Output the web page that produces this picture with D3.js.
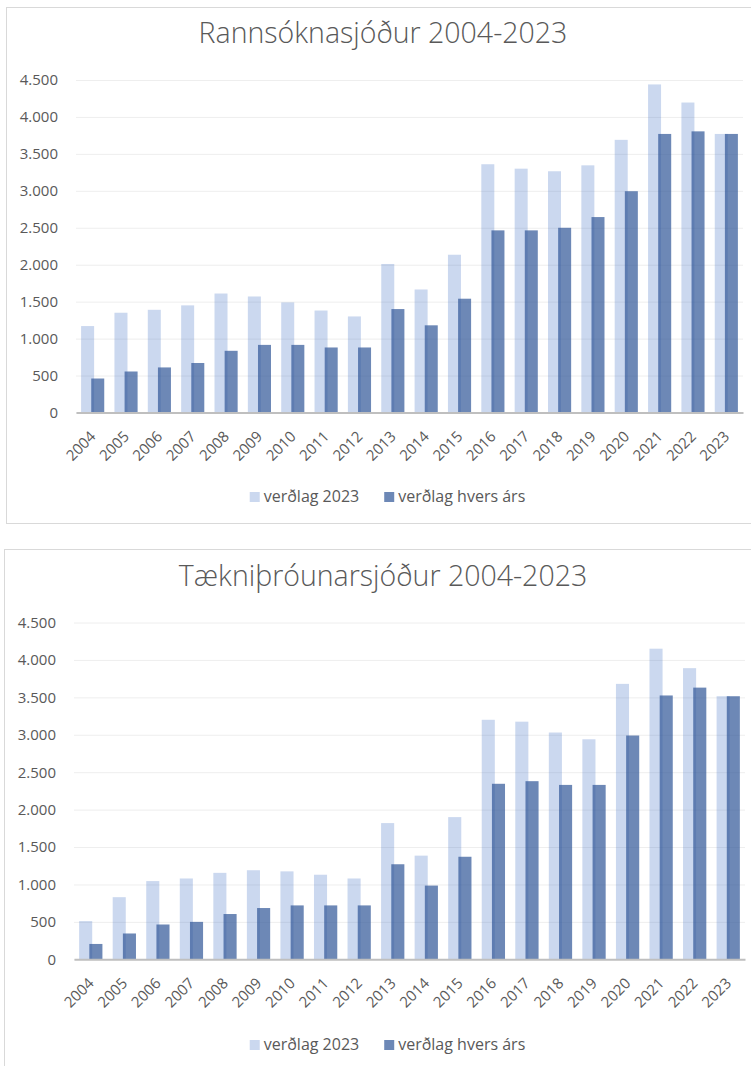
<!DOCTYPE html>
<html>
<head>
<meta charset="utf-8">
<script src="https://cdn.jsdelivr.net/npm/d3@7"></script>
<style>
  body { margin: 0; background: #fff; }
  svg { display: block; }
  text { font-family: "Open Sans", "Liberation Sans", sans-serif; fill: #595959; }
</style>
</head>
<body>
<svg id="chart" width="751" height="1066"></svg>
<script>
var years = ["2004","2005","2006","2007","2008","2009","2010","2011","2012","2013",
             "2014","2015","2016","2017","2018","2019","2020","2021","2022","2023"];
var yTicks = [0, 500, 1000, 1500, 2000, 2500, 3000, 3500, 4000, 4500];
var seriesNames = ["verðlag 2023", "verðlag hvers árs"];

// Rannsóknasjóður
var rannsTitle = "Rannsóknasjóður 2004-2023";
var rannsFixed = [1170, 1350, 1390, 1450, 1610, 1570, 1490, 1380, 1300, 2010,
                  1665, 2135, 3360, 3300, 3265, 3345, 3690, 4440, 4195, 3770];
var rannsNominal = [460, 555, 610, 670, 835, 915, 915, 880, 880, 1400,
                    1180, 1540, 2465, 2465, 2500, 2645, 2995, 3770, 3805, 3770];

// Tækniþróunarsjóður
var taeknTitle = "Tækniþróunarsjóður 2004-2023";
var taeknFixed = [510, 830, 1045, 1080, 1155, 1190, 1175, 1130, 1080, 1820,
                  1385, 1900, 3200, 3175, 3030, 2940, 3680, 4150, 3890, 3515];
var taeknNominal = [205, 345, 465, 500, 605, 685, 720, 720, 720, 1270,
                    985, 1370, 2345, 2380, 2330, 2330, 2990, 3525, 3630, 3515];

var svg = d3.select("#chart");
var fmt = function (v) { return d3.format(",")(v).replace(/,/g, "."); };

function drawChart(opt, title, fixed, nominal) {
    var g = svg.append("g");

    g.append("rect")
        .attr("x", opt.frame[0]).attr("y", opt.frame[1])
        .attr("width", opt.frame[2]).attr("height", opt.frame[3])
        .attr("fill", "#fff").attr("stroke", "#d9d9d9").attr("stroke-width", 1);

    g.append("text")
        .attr("x", 383).attr("y", opt.titleY)
        .attr("text-anchor", "middle")
        .style("font-size", "28.5px").style("font-weight", 300)
        .text(title);

    var x = d3.scaleBand().domain(years).range([opt.left, opt.right]).padding(0);
    var y = d3.scaleLinear().domain([0, 4500]).range([opt.bottom, opt.top]);
    var bw = x.bandwidth() * 0.39;
    var off = x.bandwidth() * 0.152;

    // gridlines + y labels
    var yAxis = d3.axisLeft(y).tickValues(yTicks).tickFormat(fmt)
        .tickSize(-(opt.right - opt.left)).tickPadding(18);
    var ya = g.append("g").attr("transform", "translate(" + opt.left + ",0)").call(yAxis);
    ya.select(".domain").remove();
    ya.selectAll(".tick line").attr("stroke", "#eeeeee").attr("stroke-width", 1);
    ya.selectAll(".tick text").style("font-size", "15px").attr("fill", "#595959");

    g.selectAll(".barA").data(fixed).enter().append("rect")
        .attr("x", function (d, i) { return x(years[i]) + x.bandwidth() / 2 - off - bw / 2; })
        .attr("y", function (d) { return y(d); })
        .attr("width", bw)
        .attr("height", function (d) { return y(0) - y(d); })
        .attr("fill", "#4472c4").attr("fill-opacity", 0.28);

    g.selectAll(".barB").data(nominal).enter().append("rect")
        .attr("x", function (d, i) { return x(years[i]) + x.bandwidth() / 2 + off - bw / 2; })
        .attr("y", function (d) { return y(d); })
        .attr("width", bw)
        .attr("height", function (d) { return y(0) - y(d); })
        .attr("fill", "#2f5597").attr("fill-opacity", 0.7);

    // x axis
    var xAxis = d3.axisBottom(x).tickSize(0).tickPadding(0);
    var xa = g.append("g").attr("transform", "translate(0," + opt.bottom + ")").call(xAxis);
    xa.select(".domain").attr("stroke", "#bfbfbf").attr("stroke-width", 2);
    xa.selectAll(".tick text")
        .style("font-size", "15px").attr("fill", "#595959")
        .attr("text-anchor", "end")
        .attr("dy", null)
        .attr("transform", "translate(4,25) rotate(-45)");

    // legend
    var leg = g.append("g");
    var cols = ["rgba(68,114,196,0.28)", "rgba(47,85,151,0.7)"];
    var cx = 0;
    seriesNames.forEach(function (name, i) {
        leg.append("rect").attr("x", cx).attr("y", -10).attr("width", 10).attr("height", 10)
            .attr("fill", cols[i]);
        var t = leg.append("text").attr("x", cx + 14).attr("y", 0)
            .style("font-size", "16px").text(name);
        cx += 14 + t.node().getComputedTextLength() + 25;
    });
    var totalW = cx - 25;
    leg.attr("transform", "translate(" + (387.5 - totalW / 2) + "," + opt.legendY + ")");
}

drawChart({frame: [6.5, 7.5, 800, 516], titleY: 43, top: 80, bottom: 412.5,
           left: 76, right: 743, legendY: 502}, rannsTitle, rannsFixed, rannsNominal);
drawChart({frame: [4.5, 549.5, 800, 600], titleY: 586, top: 622.5, bottom: 959.3,
           left: 74, right: 745, legendY: 1050}, taeknTitle, taeknFixed, taeknNominal);
</script>
</body>
</html>
